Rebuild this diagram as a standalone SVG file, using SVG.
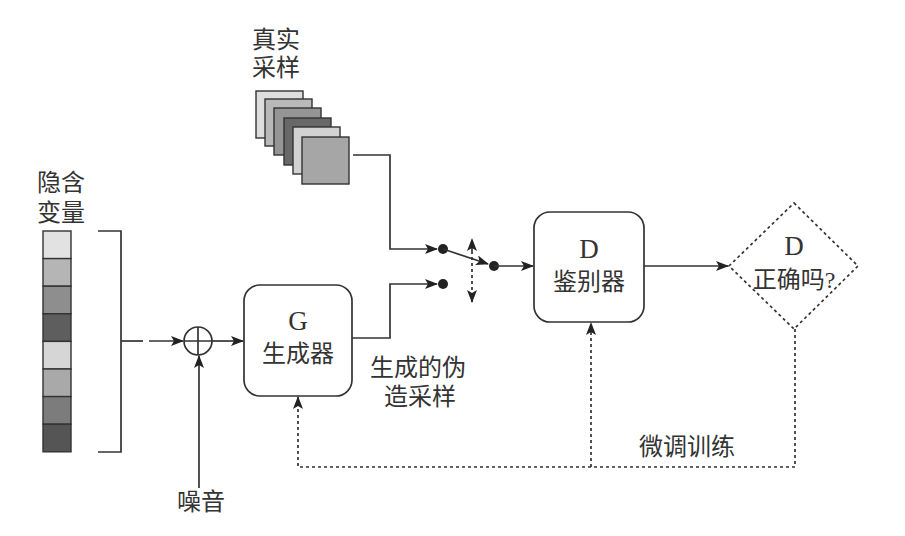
<svg xmlns="http://www.w3.org/2000/svg" width="905" height="536" viewBox="0 0 905 536">
<defs>
<marker id="ah" viewBox="0 0 13 10" refX="12" refY="5" markerWidth="13" markerHeight="10" markerUnits="userSpaceOnUse" orient="auto">
<path d="M0,0 L13,5 L0,10 L3,5 Z" fill="#222"/>
</marker>
<style>
.t{font-family:"Liberation Serif","Noto Sans CJK SC",serif;font-size:24px;fill:#333;text-anchor:middle;dominant-baseline:central}
.l{font-size:27px}
.ln{fill:none;stroke:#333;stroke-width:1.7}
.dt{fill:none;stroke:#333;stroke-width:1.7;stroke-dasharray:3 3}
.box{fill:#fff;stroke:#333;stroke-width:1.7}
.sq{stroke:#333;stroke-width:1.4}
</style>
</defs>
<rect width="905" height="536" fill="#fff"/>

<g id="real-samples">
<text class="t" x="276" y="40">真实</text>
<text class="t" x="276" y="68">采样</text>
<rect class="sq" x="256" y="91" width="47" height="47" fill="#dedede"/>
<rect class="sq" x="265" y="99" width="47" height="47" fill="#b9b9b9"/>
<rect class="sq" x="274" y="108" width="47" height="47" fill="#959595"/>
<rect class="sq" x="284" y="118" width="47" height="47" fill="#686868"/>
<rect class="sq" x="293" y="127" width="47" height="47" fill="#d2d2d2"/>
<rect class="sq" x="302" y="137" width="47" height="47" fill="#a6a6a6"/>
</g>

<g id="latent">
<text class="t" x="61" y="183">隐含</text>
<text class="t" x="61" y="213">变量</text>
<rect class="sq" x="43" y="231" width="28" height="27.6" fill="#e2e2e2"/>
<rect class="sq" x="43" y="258.6" width="28" height="27.6" fill="#b5b5b5"/>
<rect class="sq" x="43" y="286.2" width="28" height="27.6" fill="#8e8e8e"/>
<rect class="sq" x="43" y="313.8" width="28" height="27.6" fill="#5e5e5e"/>
<rect class="sq" x="43" y="341.4" width="28" height="27.6" fill="#d6d6d6"/>
<rect class="sq" x="43" y="369" width="28" height="27.6" fill="#a9a9a9"/>
<rect class="sq" x="43" y="396.6" width="28" height="27.6" fill="#7c7c7c"/>
<rect class="sq" x="43" y="424.2" width="28" height="27.6" fill="#555555"/>
<path class="ln" d="M98,231 H121 V452 H98"/>
</g>

<g id="adder">
<circle cx="198" cy="341" r="14" fill="#fff" stroke="#333" stroke-width="1.7"/>
<path class="ln" d="M184,341 H212 M198,327 V355"/>
</g>

<g id="noise">
<text class="t" x="201" y="502">噪音</text>
</g>

<g id="generator">
<rect class="box" x="244" y="285" width="108" height="111" rx="16"/>
<text class="t l" x="298" y="321">G</text>
<text class="t" x="298" y="354">生成器</text>
</g>

<g id="fake-label">
<text class="t" x="418" y="368">生成的伪</text>
<text class="t" x="420" y="397">造采样</text>
</g>

<g id="discriminator">
<rect class="box" x="534" y="212" width="110" height="110" rx="16"/>
<text class="t l" x="589" y="249">D</text>
<text class="t" x="589" y="282">鉴别器</text>
</g>

<g id="decision">
<path class="dt" d="M794,203 L858,266 L794,329 L729,266 Z" fill="#fff"/>
<text class="t l" x="794" y="246">D</text>
<text class="t" x="794" y="280">正确吗?</text>
</g>

<g id="tune-label">
<text class="t" x="687" y="447">微调训练</text>
</g>

<g id="switch">
<circle cx="443" cy="249" r="5" fill="#222"/>
<circle cx="443" cy="284" r="5" fill="#222"/>
<circle cx="494" cy="266" r="5" fill="#222"/>
</g>

<g id="connectors">
<path class="ln" d="M121,341 H143"/>
<path class="ln" d="M149,341 H183" marker-end="url(#ah)"/>
<path class="ln" d="M212,341 H243" marker-end="url(#ah)"/>
<path class="ln" d="M199,488 V356" marker-end="url(#ah)"/>
<path class="ln" d="M353,155 H390 V249 H437" marker-end="url(#ah)"/>
<path class="ln" d="M352,338 H390 V284 H437" marker-end="url(#ah)"/>
<path class="ln" d="M443,249 L488,264" marker-end="url(#ah)"/>
<path class="ln" d="M494,266 H533" marker-end="url(#ah)"/>
<path class="ln" d="M644,266 H728" marker-end="url(#ah)"/>
<path class="dt" d="M472,251 V239" marker-end="url(#ah)"/>
<path class="dt" d="M472,251 V302" marker-end="url(#ah)"/>
<path class="dt" d="M795,329 V467 H298 V397" marker-end="url(#ah)"/>
<path class="dt" d="M591,467 V323" marker-end="url(#ah)"/>
</g>
</svg>
